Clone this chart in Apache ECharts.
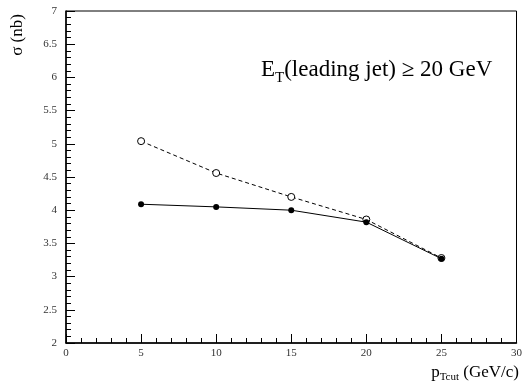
<!DOCTYPE html>
<html><head><meta charset="utf-8">
<script src="https://cdn.jsdelivr.net/npm/echarts@6/dist/echarts.min.js"></script>
<style>html,body{margin:0;padding:0;background:#fff}#c{width:525px;height:389px}</style>
</head><body><div id="c"></div>
<script>
const ptCut = [5, 10, 15, 20, 25];
const sigmaSolid = [4.09, 4.05, 4.00, 3.82, 3.27];
const sigmaDashed = [5.04, 4.56, 4.20, 3.86, 3.28];
const xRange = [0, 30];
const yRange = [2, 7];

const chart = echarts.init(document.getElementById('c'));
const serif = 'Liberation Serif, Times New Roman, serif';
chart.setOption({
  animation: false,
  grid: {left: 66, top: 11, right: 7, bottom: 46, show: true, borderColor: '#000', borderWidth: 1},
  xAxis: {
    type: 'value', min: xRange[0], max: xRange[1], interval: 5,
    axisLine: {lineStyle: {color: '#000', width: 1.5}},
    axisTick: {inside: true, length: 9, lineStyle: {color: '#000', width: 1}},
    minorTick: {show: true, splitNumber: 5, length: 5, lineStyle: {color: '#000', width: 1}},
    splitLine: {show: false},
    axisLabel: {fontFamily: serif, fontSize: 11, color: '#333', margin: 5}
  },
  yAxis: {
    type: 'value', min: yRange[0], max: yRange[1], interval: 0.5,
    axisLine: {lineStyle: {color: '#000', width: 1.5}},
    axisTick: {inside: true, length: 9, lineStyle: {color: '#000', width: 1}},
    minorTick: {show: true, splitNumber: 5, length: 5, lineStyle: {color: '#000', width: 1}},
    splitLine: {show: false},
    axisLabel: {fontFamily: serif, fontSize: 11, color: '#333', margin: 9}
  },
  series: [
    {type: 'line', data: ptCut.map((x, i) => [x, sigmaDashed[i]]),
     lineStyle: {color: '#000', width: 1, type: [4, 3]},
     symbol: 'circle', symbolSize: 7,
     itemStyle: {color: '#fff', borderColor: '#000', borderWidth: 1}, z: 2},
    {type: 'line', data: ptCut.map((x, i) => [x, sigmaSolid[i]]),
     lineStyle: {color: '#000', width: 1},
     symbol: 'circle', symbolSize: 6,
     itemStyle: {color: '#000', borderColor: '#000', borderWidth: 0}, z: 3}
  ],
  graphic: [
    {type: 'text', left: 261, top: 58,
     style: {text: '{a|E}{s|T}{a|(leading jet) ≥ 20 GeV}',
       rich: {a: {fontFamily: serif, fontSize: 23, fill: '#000'},
              s: {fontFamily: serif, fontSize: 15, fill: '#000', padding: [17, 0, 0, 0]}}}},
    {type: 'text', right: 6, top: 364,
     style: {text: '{a|p}{s|Tcut}{a| (GeV/c)}',
       rich: {a: {fontFamily: serif, fontSize: 17, fill: '#000'},
              s: {fontFamily: serif, fontSize: 11, fill: '#000', padding: [10, 0, 0, 0]}}}},
    {type: 'text', x: 26, y: 35, rotation: Math.PI / 2,
     style: {text: 'σ (nb)', fontFamily: serif, fontSize: 17, fill: '#000', align: 'center', verticalAlign: 'bottom'}}
  ]
});
</script></body></html>
